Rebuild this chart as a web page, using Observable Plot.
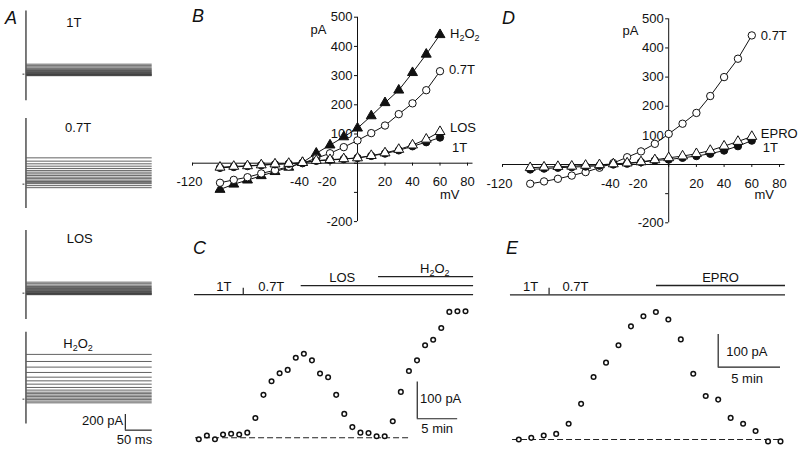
<!DOCTYPE html>
<html><head><meta charset="utf-8">
<script src="https://cdn.jsdelivr.net/npm/d3@7"></script>
<script src="https://cdn.jsdelivr.net/npm/@observablehq/plot@0.6"></script>
<style>
body{margin:0;background:#fff;}
#fig{position:relative;width:800px;height:449px;overflow:hidden;font-family:"Liberation Sans",Arial,sans-serif;}
#fig > div{position:absolute;}
.letter{font-style:italic;font-size:18px;line-height:18px;color:#111;}
</style></head><body><div id="fig"></div>
<script>
// ---------------- DATA ----------------
// Panel A: steady-state levels of the current traces (pA) and capacitive spike extents (pA)
const traceLabels = ["1T", "0.7T", "LOS", "H2O2"];
const traces1T   = [127,108,92,76,64,54,45,36,28,20,13,6,0,-5,-10,-15,-20];
const traces07T  = [335,293,259,229,200,175,153,131,111,89,70,51,34,19,6,-19,-45];
const tracesLOS  = [140,120,102,85,71,59,48,38,29,22,14,6,0,-5,-10,-15,-20];
const tracesH2O2 = [570,480,408,340,280,233,191,149,115,89,70,51,32,13,-6,-25,-47];
const spikeTop    = [806, 837, 799, 853];
const spikeBottom = [-340, -310, -335, -318];
const traceDuration = 234; // ms

// Panels B and D: I-V curves
const voltages = [-100,-90,-80,-70,-60,-50,-40,-30,-20,-10,0,10,20,30,40,50,60];
const ivB_H2O2 = [-90,-72,-58,-43,-29,-14,2,34,62,90,120,162,207,250,310,373,440];
const ivB_07T  = [-67,-57,-48,-35,-24,-12,0,17,34,55,78,103,129,168,205,250,315];
const ivB_LOS  = [-14,-11,-9,-6,-3,-1,2,9,12,15,18,26,35,47,62,82,108];
const ivB_1T   = [-16,-13,-10,-7,-4,-2,1,8,11,14,18,25,33,44,58,72,88];
const ivD_07T  = [-66,-58,-49,-38,-26,-11,5,25,45,71,105,140,177,235,300,363,443];
const ivD_EPRO = [-11,-9,-7,-6,-3,-1,2,5,9,16,23,29,37,48,63,79,96];
const ivD_1T   = [-17,-14,-11,-9,-7,-4,0,3,8,14,17,23,29,37,48,63,82];
const ivXTicks = [-120,-100,-80,-60,-40,-20,0,20,40,60,80];
const ivXTickLabels = [-120,-40,-20,20,40,60,80];
const ivYTicks = [-200,-100,0,100,200,300,400,500];
const ivYTickLabels = [-200,100,200,300,400,500];

// Panels C and E: time courses (one point per minute, pA)
const courseC = [-4,6,-4,9,11,9,14,54,117,154,176,185,218,229,211,175,165,117,65,29,14,13,4,4,45,125,182,211,252,267,299,343,345,345];
const courseE = [0,5,12,17,48,109,191,235,288,346,377,390,367,306,201,133,122,66,48,26,-6,-6];
// drug application bars: [label, start min, end min, row]
const barsC = [["", -0.53, 34.0, 0], ["LOS", 12.67, 34.0, 1], ["H2O2", 22.24, 34.0, 2]];
const barsE = [["", -0.67, 21.4, 0], ["EPRO", 11.05, 21.4, 1]];
const switchC = 5.5, switchE = 2.43;   // 1T -> 0.7T switch (min)

// ---------------- HELPERS ----------------
const fig = document.getElementById("fig");
const FONT = "'Liberation Sans', Arial, Helvetica, sans-serif";
const FS = 13;
const baseStyle = {background: "transparent", overflow: "visible", fontFamily: FONT, fontSize: FS + "px", color: "#111"};
function mount(svg, left, top) {
  fixSub(svg);
  const d = document.createElement("div");
  d.style.left = left + "px"; d.style.top = top + "px";
  d.appendChild(svg); fig.appendChild(d);
}
function fixSub(svg) {
  d3.select(svg).selectAll("text").each(function () {
    if (this.textContent === "H2O2") {
      const t = d3.select(this);
      this.textContent = "";
      t.append("tspan").text("H");
      t.append("tspan").attr("dy", 2.7).attr("font-size", "9px").text("2");
      t.append("tspan").attr("dy", -2.7).text("O");
      t.append("tspan").attr("dy", 2.7).attr("font-size", "9px").text("2");
    }
  });
}
function letter(ch, left, top) {
  const d = document.createElement("div");
  d.className = "letter"; d.textContent = ch;
  d.style.left = left + "px"; d.style.top = top + "px";
  fig.appendChild(d);
}

// ---------------- PANEL A ----------------
const traceSets = [traces1T, traces07T, tracesLOS, tracesH2O2];
const aBase = [73.3, 184, 292.7, 399];           // page baseline (px)
const aLabelPos = [[88, 653], [96, 713], [99, 697], [96, 700]];
const aKy = 0.0785;                               // px per pA
traceSets.forEach((levels, k) => {
  const marks = [
    Plot.ruleY(levels, {y: d => d, x1: 0.8, x2: traceDuration, stroke: "#3a3a3a", strokeWidth: 0.8}),
    Plot.ruleX([-1], {y1: spikeBottom[k], y2: spikeTop[k], stroke: "#333", strokeWidth: 1.3}),
    Plot.ruleY([0], {x1: -6.5, x2: -3, stroke: "#333", strokeWidth: 1}),
    Plot.text([traceLabels[k]], {x: aLabelPos[k][0], y: aLabelPos[k][1], text: d => d, fontSize: FS})
  ];
  if (k === 3) {
    const t0 = 184, p0 = -395;
    marks.push(
      Plot.ruleX([t0], {y1: p0, y2: p0 + 200, stroke: "#222", strokeWidth: 1.2}),
      Plot.ruleY([p0], {x1: t0, x2: t0 + 50, stroke: "#222", strokeWidth: 1.2}),
      Plot.text(["200 pA"], {x: t0 - 4, y: p0 + 115, text: d => d, textAnchor: "end", fontSize: FS}),
      Plot.text(["50 ms"], {x: t0 + 17, y: p0 - 127, text: d => d, fontSize: FS})
    );
  }
  const svg = Plot.plot({
    width: 160, height: 1550 * aKy, marginLeft: 26, marginRight: 8.3, marginTop: 0, marginBottom: 0,
    x: {domain: [0, traceDuration], axis: null}, y: {domain: [-650, 900], axis: null},
    style: baseStyle, marks
  });
  mount(svg, 0, aBase[k] - 900 * aKy);
});

// ---------------- PANELS B & D ----------------
function ivPanel(cfg) {
  const rows = [];
  cfg.series.forEach(s => voltages.forEach((v, i) => rows.push({series: s.name, v, i: s.values[i]})));
  const marks = [
    Plot.ruleY([0], {x1: -120, x2: 84, stroke: "#111", strokeWidth: 1}),
    Plot.ruleX([0], {y1: -200, y2: 500, stroke: "#111", strokeWidth: 1}),
    Plot.ruleX(ivXTicks, {x: d => d, y1: 0, y2: -10, stroke: "#111"}),
    Plot.ruleY(ivYTicks, {y: d => d, x1: 0, x2: -2.2, stroke: "#111"}),
    Plot.text(ivXTickLabels.filter(d => d < 0), {x: d => d, y: 0, dy: 19, dx: -3, text: d => String(d), fontSize: FS}),
    Plot.text(ivXTickLabels.filter(d => d > 0), {x: d => d, y: 0, dy: 19, text: d => String(d), fontSize: FS}),
    Plot.text(ivYTickLabels, {x: 0, y: d => d, dx: -5, textAnchor: "end", text: d => String(d), fontSize: FS}),
    Plot.text(["pA"], {x: cfg.pA[0], y: cfg.pA[1], text: d => d, fontSize: FS}),
    Plot.text(["mV"], {x: cfg.mV[0], y: cfg.mV[1], text: d => d, fontSize: FS}),
    Plot.line(rows, {x: "v", y: "i", z: "series", stroke: "#111", strokeWidth: 1})
  ];
  cfg.series.forEach(s => {
    marks.push(Plot.dot(rows.filter(r => r.series === s.name),
      {x: "v", y: "i", symbol: s.symbol, r: 3.7, fill: s.fill, stroke: "#111", strokeWidth: 1}));
  });
  cfg.series.forEach(s => {
    marks.push(Plot.text([s.name], {x: voltages[voltages.length - 1], y: s.values[s.values.length - 1],
      text: d => d, textAnchor: "start", dx: s.dx, dy: s.dy, fontSize: FS}));
  });
  const svg = Plot.plot({
    width: cfg.width, height: 240, marginLeft: cfg.ml, marginRight: cfg.mr, marginTop: cfg.mt, marginBottom: cfg.mb,
    x: {domain: [-120, 80], axis: null}, y: {domain: [-200, 500], axis: null},
    style: baseStyle, marks
  });
  mount(svg, cfg.left, 0);
}
ivPanel({
  left: 170, width: 310, ml: 22, mr: 13, mt: 16.7, mb: 18.9, pA: [-28.4, 458], mV: [67, -107],
  series: [
    {name: "H2O2", values: ivB_H2O2, symbol: "triangle", fill: "#111", dx: 10, dy: -1},
    {name: "0.7T", values: ivB_07T, symbol: "circle", fill: "white", dx: 9, dy: -1},
    {name: "1T", values: ivB_1T, symbol: "circle", fill: "#111", dx: 12, dy: 10},
    {name: "LOS", values: ivB_LOS, symbol: "triangle", fill: "white", dx: 10, dy: -4}
  ]
});
ivPanel({
  left: 480, width: 320, ml: 22, mr: 21, mt: 18.3, mb: 17.7, pA: [-27.6, 460], mV: [69, -103],
  series: [
    {name: "0.7T", values: ivD_07T, symbol: "circle", fill: "white", dx: 9, dy: 0},
    {name: "1T", values: ivD_1T, symbol: "circle", fill: "#111", dx: 11, dy: 7},
    {name: "EPRO", values: ivD_EPRO, symbol: "triangle", fill: "white", dx: 9, dy: -3}
  ]
});

// ---------------- PANELS C & E ----------------
function coursePanel(cfg) {
  const pts = cfg.values.map((v, i) => ({t: i, v}));
  const rowY = r => cfg.rowBase + r * cfg.rowGap;
  const sb = cfg.scaleBar;
  const marks = [
    Plot.ruleY(cfg.bars, {y: d => rowY(d[3]), x1: d => d[1], x2: d => d[2], stroke: "#222", strokeWidth: 1.3}),
    Plot.ruleX([cfg.switchT], {x: d => d, y1: rowY(0), y2: rowY(0) + cfg.rowGap * 0.7, stroke: "#222", strokeWidth: 1.2}),
    Plot.text(["1T"], {x: cfg.lab1T, y: rowY(0), dy: -7.5, text: d => d, fontSize: FS}),
    Plot.text(["0.7T"], {x: cfg.lab07T, y: rowY(0), dy: -7.5, text: d => d, fontSize: FS}),
    Plot.text(cfg.bars.filter(d => d[0]), {x: (d, i) => cfg.barLabelT[i], y: d => rowY(d[3]), dy: -7.5, text: d => d[0], fontSize: FS}),
    Plot.ruleY([0], {x1: cfg.dash[0], x2: cfg.dash[1], stroke: "#222", strokeWidth: 1.1, strokeDasharray: "6,3"}),
    Plot.ruleX([sb.t], {y1: sb.p, y2: sb.p + 100, stroke: "#222", strokeWidth: 1.2}),
    Plot.ruleY([sb.p], {x1: sb.t, x2: sb.t + 5, stroke: "#222", strokeWidth: 1.2}),
    Plot.text(["100 pA"], {x: sb.t + cfg.sbLab[0], y: sb.p + cfg.sbLab[1], text: d => d, textAnchor: "start", fontSize: FS}),
    Plot.text(["5 min"], {x: sb.t + cfg.sbLab[2], y: sb.p + cfg.sbLab[3], text: d => d, textAnchor: "start", fontSize: FS}),
    Plot.dot(pts, {x: "t", y: "v", r: 2.3, fill: "white", stroke: "#111", strokeWidth: 1.5})
  ];
  const svg = Plot.plot({
    width: cfg.width, height: 219, marginLeft: cfg.ml, marginRight: cfg.mr, marginTop: cfg.mt, marginBottom: cfg.mb,
    x: {domain: [0, cfg.values.length - 1], axis: null}, y: {domain: cfg.ydom, axis: null},
    style: baseStyle, marks
  });
  mount(svg, cfg.left, 230);
}
coursePanel({
  values: courseC, bars: barsC, switchT: switchC, left: 180, width: 300, ml: 18.3, mr: 15,
  mt: 38.5, mb: 4.4, ydom: [-20, 460], rowBase: 390, rowGap: 24.7,
  lab1T: 3.1, lab07T: 8.97, barLabelT: [17.75, 29.2], dash: [-0.4, 26.2],
  scaleBar: {t: 27.03, p: 51.8}, sbLab: [0.35, 54, 0.5, -27]
});
coursePanel({
  values: courseE, bars: barsE, switchT: switchE, left: 490, width: 310, ml: 28.3, mr: 20,
  mt: 45.5, mb: 3.5, ydom: [-20, 500], rowBase: 442.5, rowGap: 28.5,
  lab1T: 0.94, lab07T: 4.55, barLabelT: [16.19], dash: [-0.5, 21],
  scaleBar: {t: 16.0, p: 221}, sbLab: [0.65, 46, 1.05, -35]
});

// ---------------- PANEL LETTERS ----------------
letter("A", 5, 9);
letter("B", 192, 7);
letter("D", 502, 8.5);
letter("C", 193, 238.5);
letter("E", 506, 238.5);
</script></body></html>
